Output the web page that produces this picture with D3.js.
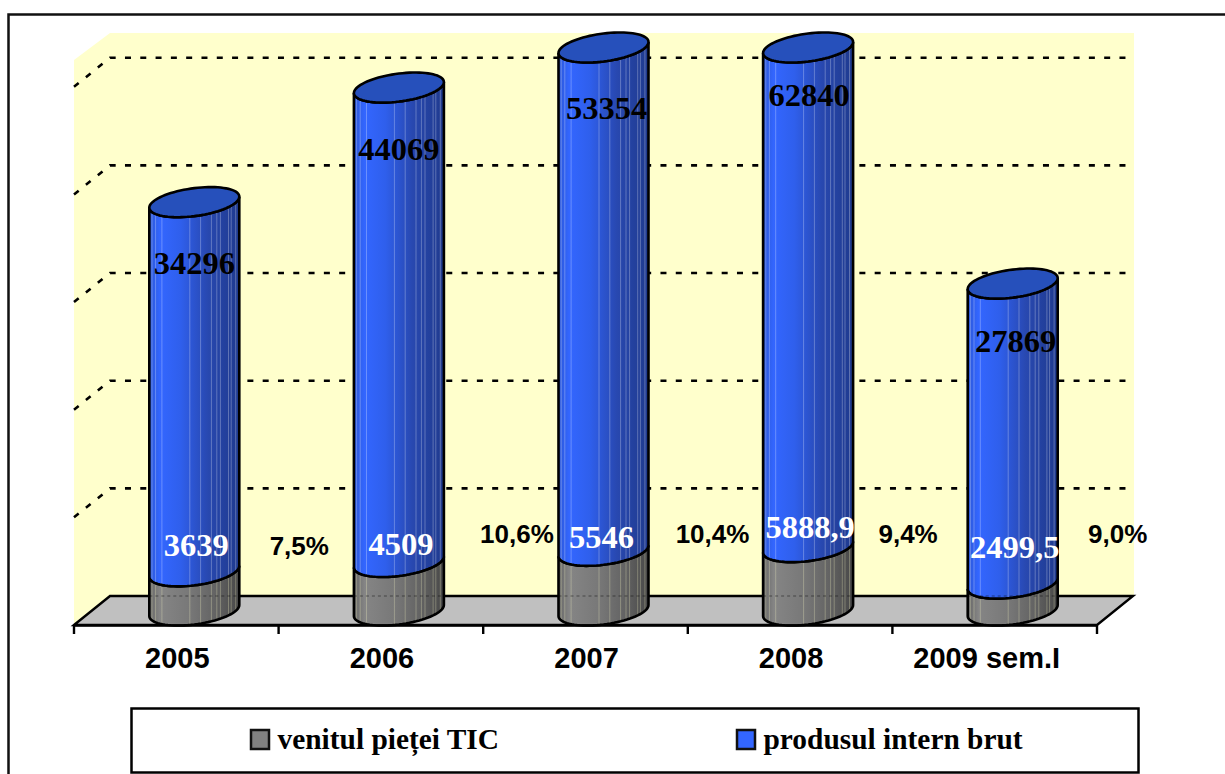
<!DOCTYPE html>
<html>
<head>
<meta charset="utf-8">
<script src="https://cdnjs.cloudflare.com/ajax/libs/d3/7.8.5/d3.min.js"></script>
<style>
body { margin: 0; background: #fff; overflow: hidden; }
.serif { font-family: "Liberation Serif", serif; font-weight: bold; }
.sans { font-family: "Liberation Sans", sans-serif; font-weight: bold; }
</style>
</head>
<body>
<svg id="chart" width="1225" height="774"></svg>
<script>
const categories = ["2005", "2006", "2007", "2008", "2009 sem.I"];
const venit = [3639, 4509, 5546, 5888.9, 2499.5];
const pib = [34296, 44069, 53354, 62840, 27869];
const venitLabels = ["3639", "4509", "5546", "5888,9", "2499,5"];
const pibLabels = ["34296", "44069", "53354", "62840", "27869"];
const percents = ["7,5%", "10,6%", "10,4%", "9,4%", "9,0%"];
const yTicks = [10000, 20000, 30000, 40000, 50000];
const legendNames = ["venitul pieței TIC", "produsul intern brut"];

// hand placed labels in the original, so offsets from the bar centre / value
const PIB_LABEL_POS = [[0, 263], [0, 149], [3, 108], [1, 95], [3, 341]];
const VENIT_LABEL_POS = [[2, 545], [2, 544], [-2, 537], [2, 527], [2, 547]];
const PERCENT_LABEL_POS = [[105, 546], [118, 534], [109, 534], [100, 534], [105, 534]];
const AXIS_LABEL_DX = [1, 1, 1, 1, -8];

const FRONT_LEFT = 74, FRONT_RIGHT = 1097, FLOOR_BACK = 596, WALL_TOP = 33;
const DEPTH_X = 36, DEPTH_Y = 29;
const BAR_R = 45, CAP_B = 14, CAP_TILT = 5.5;
const STREAKS = [.03, .07, .14, .45, .57, .69, .75, .79, .88, .91, .96];

var svg = d3.select("#chart");

var x = d3.scaleBand().domain(categories).range([FRONT_LEFT, FRONT_RIGHT]);
var y = d3.scaleLinear().domain([0, 52300]).range([FLOOR_BACK, WALL_TOP]).clamp(true);

function add_gradient(id, stops) {
    var g = svg.append("defs").append("linearGradient").attr("id", id);
    stops.forEach(function(s) {
        g.append("stop").attr("offset", s[0]).attr("stop-color", s[1]);
    });
}
add_gradient("blue", [[0, "#2c58d8"], [.12, "#3366ff"], [.35, "#2f5fec"], [.65, "#2848b0"], [1, "#1f3a8e"]]);
add_gradient("gray", [[0, "#666"], [.12, "#858585"], [.45, "#787878"], [.75, "#626262"], [1, "#484848"]]);

// outer frame, cut by the right and bottom of the picture
svg.append("path")
    .attr("d", "M8.5,774V14.5H1225")
    .attr("fill", "none").attr("stroke", "#111").attr("stroke-width", 2.5);

// wall
var wall = d3.path();
wall.moveTo(FRONT_LEFT, y.range()[1] + DEPTH_Y - 2);
wall.lineTo(FRONT_LEFT + DEPTH_X, WALL_TOP);
wall.lineTo(FRONT_RIGHT + DEPTH_X + 1, WALL_TOP);
wall.lineTo(FRONT_RIGHT + DEPTH_X + 1, FLOOR_BACK);
wall.lineTo(FRONT_LEFT + DEPTH_X, FLOOR_BACK);
wall.lineTo(FRONT_LEFT, FLOOR_BACK + DEPTH_Y);
wall.closePath();
svg.append("path").attr("d", wall.toString()).attr("fill", "#ffffcc");

// grid lines
yTicks.forEach(function(t) {
    svg.append("path")
        .attr("d", "M" + FRONT_LEFT + "," + (y(t) + DEPTH_Y) + "L" + (FRONT_LEFT + DEPTH_X) + "," + y(t) + "H" + (FRONT_RIGHT + DEPTH_X))
        .attr("fill", "none").attr("stroke", "#000").attr("stroke-width", 2.6)
        .attr("stroke-dasharray", "6 9.3");
});

// floor
var floor = d3.path();
floor.moveTo(FRONT_LEFT, FLOOR_BACK + DEPTH_Y);
floor.lineTo(FRONT_LEFT + DEPTH_X, FLOOR_BACK);
floor.lineTo(FRONT_RIGHT + DEPTH_X, FLOOR_BACK);
floor.lineTo(FRONT_RIGHT, FLOOR_BACK + DEPTH_Y);
floor.closePath();
svg.append("path").attr("d", floor.toString())
    .attr("fill", "#c0c0c0").attr("stroke", "#000").attr("stroke-width", 2.4);

// front edge of a bar at value v, left to right
function front_arc(cx, v) {
    var cy = y(v) + DEPTH_Y / 2;
    return d3.range(0, 41).map(function(i) {
        var t = Math.PI - Math.PI * i / 40;
        return [cx + BAR_R * Math.cos(t), cy - CAP_TILT * Math.cos(t) + CAP_B * Math.sin(t)];
    });
}

var line = d3.line();

function draw_segment(cat, v0, v1, fill, streak) {
    var cx = x(cat) + x.bandwidth() / 2 + DEPTH_X / 2;
    var pts = front_arc(cx, v0).concat(front_arc(cx, v1).reverse());
    var id = "clip" + categories.indexOf(cat) + fill;
    svg.append("clipPath").attr("id", id).append("path").attr("d", line(pts) + "Z");
    var g = svg.append("g");
    g.append("path").attr("d", line(pts) + "Z").attr("fill", "url(#" + fill + ")");
    var inner = g.append("g").attr("clip-path", "url(#" + id + ")");
    inner.selectAll("line").data(STREAKS).enter().append("line")
        .attr("x1", function(f) { return cx - BAR_R + f * 2 * BAR_R; })
        .attr("x2", function(f) { return cx - BAR_R + f * 2 * BAR_R; })
        .attr("y1", 0).attr("y2", 774)
        .attr("stroke", streak).attr("stroke-opacity", .28).attr("stroke-width", 1);
    // floor line shows faintly through the bar
    inner.append("line")
        .attr("x1", cx - BAR_R).attr("x2", cx + BAR_R)
        .attr("y1", FLOOR_BACK).attr("y2", FLOOR_BACK)
        .attr("stroke", "#000").attr("stroke-opacity", .22).attr("stroke-width", 2)
        .attr("stroke-dasharray", "3 3");
    g.append("path").attr("d", line(pts) + "Z")
        .attr("fill", "none").attr("stroke", "#000").attr("stroke-width", 2.6);
}

categories.forEach(function(cat, i) {
    var total = venit[i] + pib[i];
    draw_segment(cat, 0, venit[i], "gray", "#ffffc8");
    draw_segment(cat, venit[i], total, "blue", "#ffffff");

    // top of the cylinder
    var cx = x(cat) + x.bandwidth() / 2 + DEPTH_X / 2;
    var back = front_arc(cx, total).map(function(p) {
        var cy = y(total) + DEPTH_Y / 2;
        return [p[0], 2 * cy - 2 * CAP_TILT * (p[0] - cx) / BAR_R - p[1]];
    });
    svg.append("path")
        .attr("d", line(front_arc(cx, total).concat(back.reverse())) + "Z")
        .attr("fill", "#2650bb").attr("stroke", "#000").attr("stroke-width", 2.6);

    svg.append("text").attr("class", "serif")
        .attr("x", cx + PIB_LABEL_POS[i][0]).attr("y", PIB_LABEL_POS[i][1])
        .attr("dy", "0.35em").attr("text-anchor", "middle")
        .attr("font-size", 32.5).attr("fill", "#000").text(pibLabels[i]);
    svg.append("text").attr("class", "serif")
        .attr("x", cx + VENIT_LABEL_POS[i][0]).attr("y", VENIT_LABEL_POS[i][1])
        .attr("dy", "0.35em").attr("text-anchor", "middle")
        .attr("font-size", 32.5).attr("fill", "#fff").text(venitLabels[i]);
    svg.append("text").attr("class", "sans")
        .attr("x", cx + PERCENT_LABEL_POS[i][0]).attr("y", PERCENT_LABEL_POS[i][1])
        .attr("dy", "0.35em").attr("text-anchor", "middle")
        .attr("font-size", 26).attr("fill", "#000").text(percents[i]);
});

// x axis
var axis = svg.append("g").attr("transform", "translate(0," + (FLOOR_BACK + DEPTH_Y) + ")");
axis.call(d3.axisBottom(x).tickSize(0).tickPadding(22));
axis.selectAll("text").attr("font-size", 29).attr("fill", "#000")
    .attr("dx", function(d, i) { return AXIS_LABEL_DX[i]; })
    .style("font-family", '"Liberation Sans", sans-serif').style("font-weight", "bold");
axis.select(".domain").attr("stroke", "#000").attr("stroke-width", 2.4);
axis.selectAll(".bound").data(d3.range(categories.length + 1)).enter().append("line")
    .attr("class", "bound")
    .attr("x1", function(i) { return FRONT_LEFT + i * x.step(); })
    .attr("x2", function(i) { return FRONT_LEFT + i * x.step(); })
    .attr("y1", 0).attr("y2", 9)
    .attr("stroke", "#000").attr("stroke-width", 2.4);

// legend
svg.append("rect")
    .attr("x", 131.5).attr("y", 708.5).attr("width", 1007).attr("height", 64)
    .attr("fill", "#fff").attr("stroke", "#000").attr("stroke-width", 2.5);
[[251, "#808080"], [737, "#3366ff"]].forEach(function(s, i) {
    svg.append("rect")
        .attr("x", s[0]).attr("y", 730).attr("width", 18).attr("height", 19)
        .attr("fill", s[1]).attr("stroke", "#111").attr("stroke-width", 2.5);
    svg.append("text").attr("class", "serif")
        .attr("x", s[0] + 26.5).attr("y", 749)
        .attr("font-size", 29.4).attr("fill", "#000").text(legendNames[i]);
});
</script>
</body>
</html>
